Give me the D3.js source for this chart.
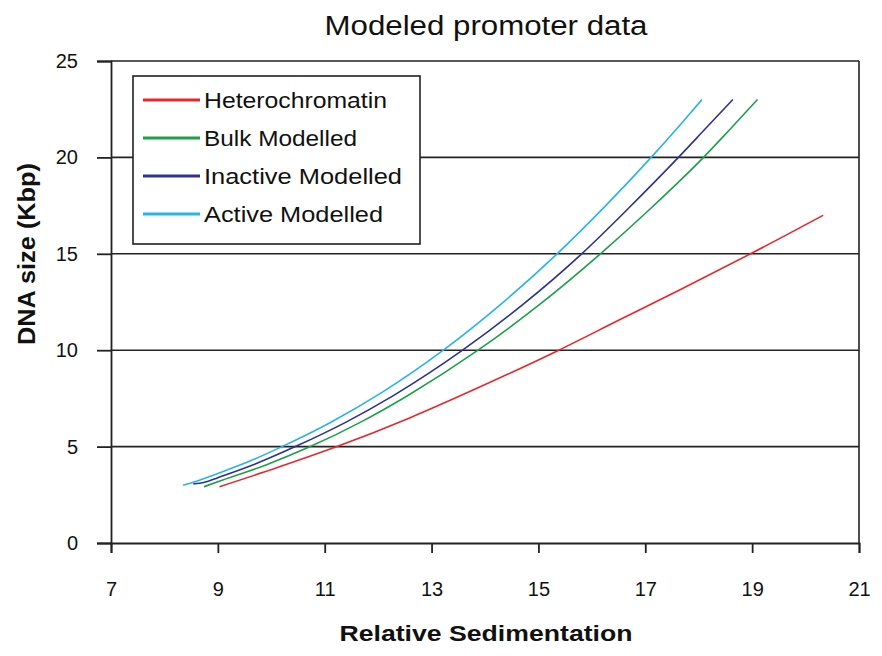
<!DOCTYPE html>
<html>
<head>
<meta charset="utf-8">
<script src="https://cdn.jsdelivr.net/npm/d3@7"></script>
<style>
    body { margin: 0; background: #fff; }
    text { font-family: "Liberation Sans", Arial, sans-serif; fill: #111; }
    .grid line { stroke: #222; stroke-width: 1.6; }
    .tick text { font-size: 20px; }
</style>
</head>
<body>
<div class="wrapper-svg"></div>
<script>
// series: [relative sedimentation, DNA size kbp]
var heterochromatin = [[9.03, 2.92], [10.1, 3.9], [11.23, 5], [12.6, 6.5], [13.91, 8.1], [15.38, 10], [16.5, 11.55], [17.66, 13.15], [18.97, 15], [20.33, 17]];
var bulkModelled = [[8.74, 2.92], [9.0, 3.18], [9.9, 4.05], [10.73, 5], [11.7, 6.31], [12.55, 7.64], [13.87, 10], [15.0, 12.32], [16.16, 15], [17.1, 17.35], [18.09, 20], [18.6, 21.5], [19.1, 23]];
var inactiveModelled = [[8.54, 3.06], [8.75, 3.15], [9.0, 3.39], [9.7, 4.1], [10.45, 5], [11.4, 6.27], [12.3, 7.67], [13.58, 10], [14.7, 12.35], [15.81, 15], [16.7, 17.4], [17.62, 20], [18.15, 21.56], [18.64, 23]];
var activeModelled = [[8.35, 3.0], [8.6, 3.2], [9.0, 3.61], [9.6, 4.25], [10.2, 5], [11.1, 6.24], [12.05, 7.77], [13.22, 10], [14.3, 12.39], [15.35, 15], [16.25, 17.47], [17.11, 20], [17.7, 21.84], [18.06, 23]];

var seriesNames = ['Heterochromatin', 'Bulk Modelled', 'Inactive Modelled', 'Active Modelled'];
var seriesColors = ['#e8262c', '#1da04c', '#2e3192', '#27b4e6'];
var xTicks = [7, 9, 11, 13, 15, 17, 19, 21];
var yTicks = [0, 5, 10, 15, 20, 25];

var allSeries = [heterochromatin, bulkModelled, inactiveModelled, activeModelled];

var svg = d3.select('.wrapper-svg')
    .append('svg')
    .attr('width', 882)
    .attr('height', 656);

var x = d3.scaleLinear().domain([7, 21]).range([111, 859]);
var y = d3.scaleLinear().domain([0, 25]).range([543, 61]);

// horizontal gridlines
svg.append('g')
    .classed('grid', true)
    .selectAll('line')
    .data(yTicks.slice(1))
    .enter()
    .append('line')
    .attr('x1', x(7))
    .attr('x2', x(21))
    .attr('y1', function(d) { return y(d); })
    .attr('y2', function(d) { return y(d); });

// right border
svg.append('line')
    .attr('x1', x(21)).attr('x2', x(21))
    .attr('y1', y(0)).attr('y2', y(25))
    .style('stroke', '#222').style('stroke-width', 1.6);

var xAxis = svg.append('g')
    .attr('transform', 'translate(0,' + y(0) + ')')
    .call(d3.axisBottom(x).tickValues(xTicks).tickSize(10).tickPadding(29).tickFormat(d3.format('d')));

var yAxis = svg.append('g')
    .attr('transform', 'translate(' + x(7) + ',0)')
    .call(d3.axisLeft(y).tickValues(yTicks).tickSize(14).tickPadding(19).tickFormat(d3.format('d')));

[xAxis, yAxis].forEach(function(ax) {
    ax.select('.domain').style('stroke', '#222').style('stroke-width', 1.8);
    ax.selectAll('.tick line').style('stroke', '#222').style('stroke-width', 1.8);
    ax.selectAll('.tick text').style('fill', '#111').style('font-family', '"Liberation Sans", Arial, sans-serif');
});

// curves
var line = d3.line()
    .x(function(d) { return x(d[0]); })
    .y(function(d) { return y(d[1]); })
    .curve(d3.curveMonotoneX);

svg.selectAll('path.series')
    .data(allSeries)
    .enter()
    .append('path')
    .classed('series', true)
    .attr('d', line)
    .style('fill', 'none')
    .style('stroke', function(d, i) { return seriesColors[i]; })
    .style('stroke-width', 1.6);

// legend
svg.append('rect')
    .attr('x', 133)
    .attr('y', 76)
    .attr('width', 287)
    .attr('height', 168)
    .style('fill', '#fff')
    .style('stroke', '#222')
    .style('stroke-width', 1.6);

var legendWidths = [183, 153, 198, 179];
seriesNames.forEach(function(name, i) {
    var ly = 100 + i * 38;
    svg.append('line')
        .attr('x1', 143).attr('x2', 200)
        .attr('y1', ly).attr('y2', ly)
        .style('stroke', seriesColors[i])
        .style('stroke-width', 3);
    svg.append('text')
        .text(name)
        .attr('x', 204)
        .attr('y', ly + 8)
        .attr('textLength', legendWidths[i])
        .attr('lengthAdjust', 'spacingAndGlyphs')
        .style('font-size', '22px');
});

// titles
svg.append('text')
    .text('Modeled promoter data')
    .attr('x', 486)
    .attr('y', 35)
    .attr('text-anchor', 'middle')
    .attr('textLength', 323)
    .attr('lengthAdjust', 'spacingAndGlyphs')
    .style('font-size', '27px');

svg.append('text')
    .text('Relative Sedimentation')
    .attr('x', 486)
    .attr('y', 641)
    .attr('text-anchor', 'middle')
    .attr('textLength', 293)
    .attr('lengthAdjust', 'spacingAndGlyphs')
    .style('font-size', '22px')
    .style('font-weight', 'bold');

svg.append('text')
    .text('DNA size (Kbp)')
    .attr('transform', 'translate(35,254) rotate(-90)')
    .attr('text-anchor', 'middle')
    .attr('textLength', 182)
    .attr('lengthAdjust', 'spacingAndGlyphs')
    .style('font-size', '23px')
    .style('font-weight', 'bold');
</script>
</body>
</html>
